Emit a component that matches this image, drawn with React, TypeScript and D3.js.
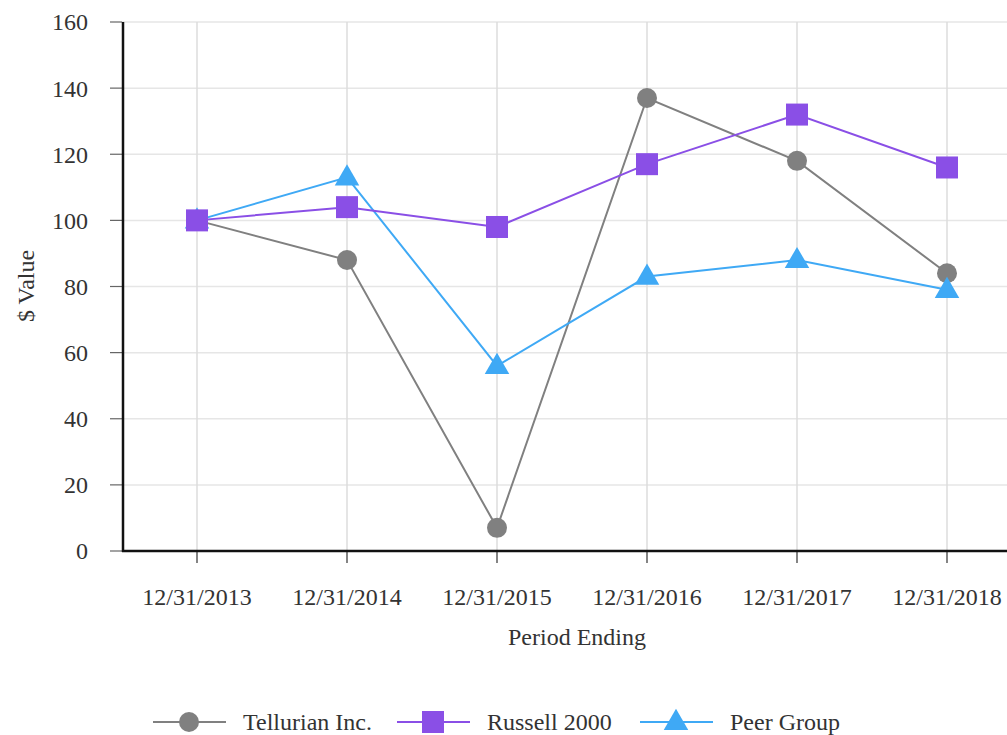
import React from "react";
import * as d3 from "d3";

const periods = ["12/31/2013", "12/31/2014", "12/31/2015", "12/31/2016", "12/31/2017", "12/31/2018"];
const tellurian = [100, 88, 7, 137, 118, 84];
const russell = [100, 104, 98, 117, 132, 116];
const peer = [100, 113, 56, 83, 88, 79];
const yTicks = [0, 20, 40, 60, 80, 100, 120, 140, 160];

const W = 1007, H = 735;
const left = 122, right = 1022, top = 22, bottom = 551;
const FONT = "Liberation Serif, Times New Roman, serif";
const FS = 24;

const series = [
  { name: "Tellurian Inc.", values: tellurian, color: "#808080", shape: "circle" },
  { name: "Peer Group", values: peer, color: "#3fa9f5", shape: "triangle" },
  { name: "Russell 2000", values: russell, color: "#8a4fe6", shape: "square" },
];
const legendOrder = ["Tellurian Inc.", "Russell 2000", "Peer Group"];

function Marker({ shape, x, y, color }: { shape: string; x: number; y: number; color: string }) {
  if (shape === "circle") return <circle cx={x} cy={y} r={10} fill={color} />;
  if (shape === "square") return <rect x={x - 11} y={y - 11} width={22} height={22} fill={color} />;
  const p = d3.symbol().type(d3.symbolTriangle).size(260)();
  return <path d={p || ""} transform={`translate(${x},${y + 1})`} fill={color} />;
}

export default function App() {
  const x = d3.scaleBand<string>().domain(periods).range([left, right]);
  const cx = (p: string) => (x(p) as number) + x.bandwidth() / 2;
  const y = d3.scaleLinear().domain([0, 160]).range([bottom, top]);
  const line = d3.line<number>().x((_, i) => cx(periods[i])).y((v) => y(v));
  const legendX: Record<string, number> = { "Tellurian Inc.": 153, "Russell 2000": 397, "Peer Group": 640 };
  return (
    <svg width={W} height={H} style={{ position: "absolute", left: 0, top: 0, background: "#fff", fontFamily: FONT }}>
      {yTicks.map((t) => (
        <line key={"gy" + t} x1={left} x2={W} y1={y(t)} y2={y(t)} stroke="#e6e6e6" strokeWidth={1.5} />
      ))}
      {periods.map((p) => (
        <line key={"gx" + p} x1={cx(p)} x2={cx(p)} y1={top} y2={bottom} stroke="#dcdcdc" strokeWidth={1.5} />
      ))}
      {yTicks.map((t) => (
        <g key={"yt" + t}>
          <line x1={110} x2={left} y1={y(t)} y2={y(t)} stroke="#666" strokeWidth={1.2} />
          <text x={88} y={y(t)} dy="0.35em" textAnchor="end" fontSize={FS} fill="#333">{t}</text>
        </g>
      ))}
      {periods.map((p) => (
        <g key={"xt" + p}>
          <line x1={cx(p)} x2={cx(p)} y1={bottom} y2={563} stroke="#333" strokeWidth={1.2} />
          <text x={cx(p)} y={605} textAnchor="middle" fontSize={FS} fill="#333">{p}</text>
        </g>
      ))}
      <line x1={left + 1} x2={left + 1} y1={top} y2={bottom + 1} stroke="#111" strokeWidth={2.5} />
      <line x1={left} x2={W} y1={bottom} y2={bottom} stroke="#111" strokeWidth={2.5} />
      <text x={577} y={645} textAnchor="middle" fontSize={FS} fill="#333">Period Ending</text>
      <text transform={`translate(34,${286}) rotate(-90)`} textAnchor="middle" fontSize={FS} fill="#333">$ Value</text>
      {series.map((s) => (
        <path key={"l" + s.name} d={line(s.values) || ""} fill="none" stroke={s.color} strokeWidth={2} />
      ))}
      {series.map((s) =>
        s.values.map((v, i) => (
          <Marker key={s.name + i} shape={s.shape} x={cx(periods[i])} y={y(v)} color={s.color} />
        ))
      )}
      {legendOrder.map((n) => {
        const s = series.find((d) => d.name === n)!;
        const lx = legendX[n];
        return (
          <g key={"lg" + n}>
            <line x1={lx} x2={lx + 73} y1={722} y2={722} stroke={s.color} strokeWidth={2} />
            <Marker shape={s.shape} x={lx + 36} y={722} color={s.color} />
            <text x={lx + 90} y={722} dy="0.35em" fontSize={FS} fill="#333">{n}</text>
          </g>
        );
      })}
    </svg>
  );
}
